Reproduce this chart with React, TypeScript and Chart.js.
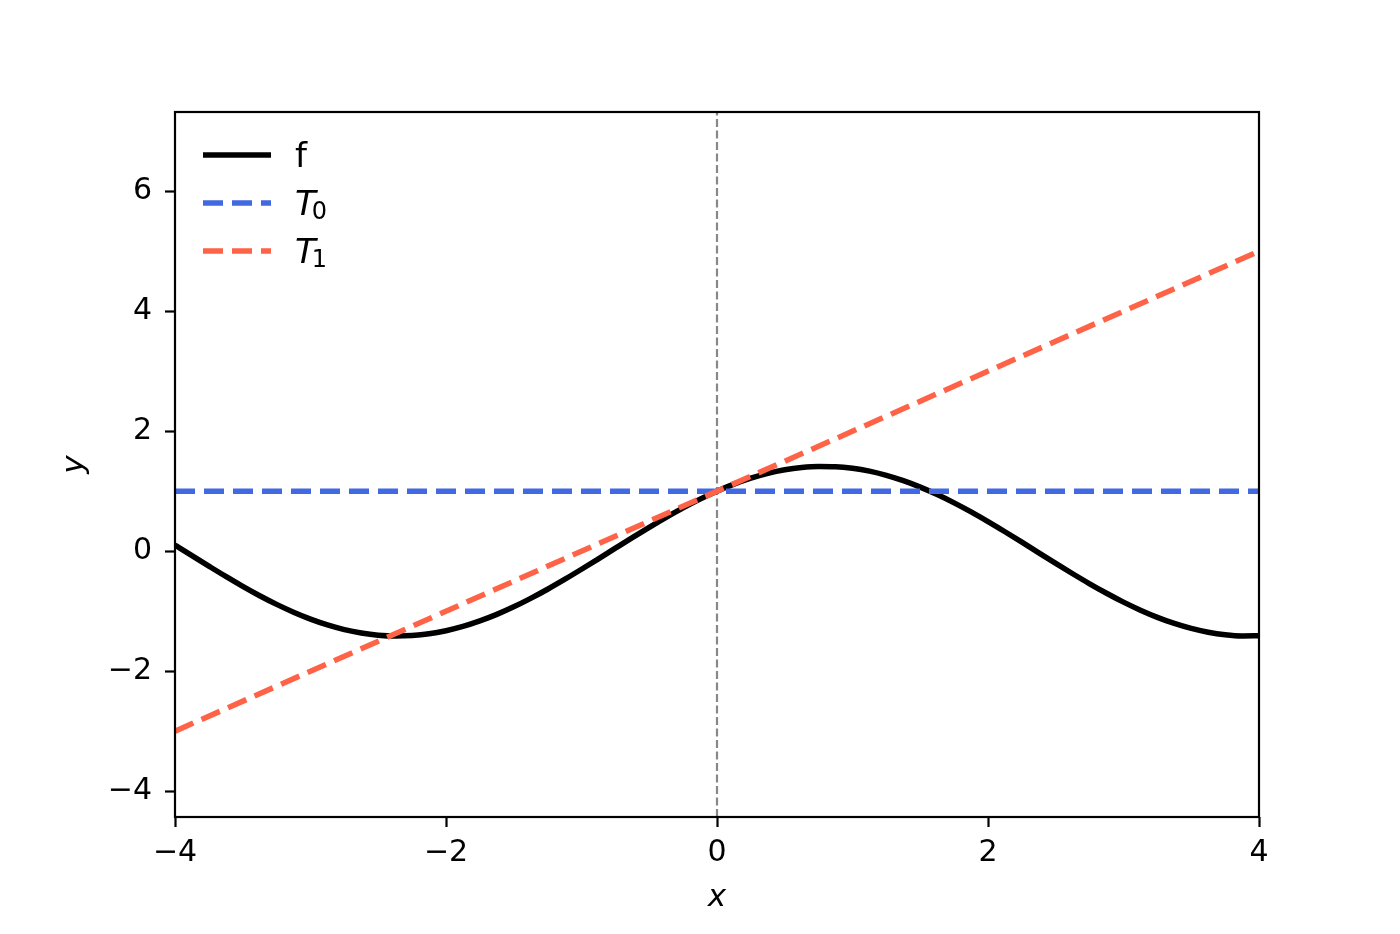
import { useEffect, useRef } from 'react';
import { Chart, registerables } from 'chart.js';

Chart.register(...registerables);

// ---- data ----
const xValues = [
  -4, -3.875, -3.75, -3.625, -3.5, -3.375, -3.25, -3.125, -3, -2.875, -2.75, -2.625, -2.5, -2.375, -2.25, -2.125,
  -2, -1.875, -1.75, -1.625, -1.5, -1.375, -1.25, -1.125, -1, -0.875, -0.75, -0.625, -0.5, -0.375, -0.25, -0.125,
  0, 0.125, 0.25, 0.375, 0.5, 0.625, 0.75, 0.875, 1, 1.125, 1.25, 1.375, 1.5, 1.625, 1.75, 1.875,
  2, 2.125, 2.25, 2.375, 2.5, 2.625, 2.75, 2.875, 3, 3.125, 3.25, 3.375, 3.5, 3.625, 3.75, 3.875, 4,
];
const fValues = [
  0.103, -0.074, -0.249, -0.421, -0.586, -0.742, -0.886, -1.016, -1.131, -1.228, -1.306, -1.363, -1.4, -1.414, -1.406, -1.377,
  -1.325, -1.254, -1.162, -1.053, -0.927, -0.786, -0.634, -0.471, -0.301, -0.127, 0.05, 0.226, 0.398, 0.564, 0.722, 0.868,
  1.0, 1.117, 1.216, 1.297, 1.357, 1.396, 1.413, 1.409, 1.382, 1.334, 1.264, 1.175, 1.068, 0.944, 0.806, 0.655,
  0.493, 0.324, 0.15, -0.027, -0.203, -0.376, -0.543, -0.701, -0.849, -0.983, -1.102, -1.204, -1.287, -1.35, -1.392, -1.412, -1.41,
];
const t0X = [-4, 4];
const t0Values = [1, 1];
const t1X = [-4, 4];
const t1Values = [-3, 5];
const vlineX = [0, 0];
const vlineY = [-4.43, 7.32];
const xTicks = [-4, -2, 0, 2, 4];
const yTicks = [-4, -2, 0, 2, 4, 6];
const xRange = [-4, 4];
const yRange = [-4.43, 7.32];
const seriesLabels = ['f', 'T_0', 'T_1'];
const seriesColors = ['#000000', '#4169e1', '#ff6347'];

const FONT = '"DejaVu Sans", sans-serif';
const fmt = (v: number) => (v < 0 ? '\u2212' + Math.abs(v) : String(v));

const framePlugin = {
  id: 'mplFrame',
  afterDatasetsDraw(chart: any) {
    const { ctx, chartArea: a } = chart;
    ctx.save();
    ctx.strokeStyle = '#000';
    ctx.lineWidth = 2.2;
    ctx.strokeRect(a.left, a.top, a.right - a.left, a.bottom - a.top);
    ctx.restore();
  },
};

const legendPlugin = {
  id: 'mplLegend',
  afterDraw(chart: any) {
    const { ctx, chartArea: a } = chart;
    const x0 = a.left + 28;
    const x1 = x0 + 68;
    const tx = x1 + 24;
    const datasets = chart.data.datasets.filter((d: any) => seriesLabels.includes(d.label));
    datasets.forEach((d: any, i: number) => {
      const ly = a.top + 43 + i * 48;
      ctx.save();
      ctx.strokeStyle = d.borderColor;
      ctx.lineWidth = 5.5;
      ctx.setLineDash(d.borderDash || []);
      ctx.beginPath();
      ctx.moveTo(x0, ly);
      ctx.lineTo(x1, ly);
      ctx.stroke();
      ctx.restore();

      ctx.save();
      ctx.fillStyle = '#000';
      ctx.textBaseline = 'alphabetic';
      ctx.textAlign = 'left';
      const base = ly + 12;
      const label: string = d.label;
      if (label.includes('_')) {
        const [main, sub] = label.split('_');
        ctx.font = `italic 34px ${FONT}`;
        ctx.fillText(main, tx, base);
        const w = ctx.measureText(main).width;
        ctx.font = `24px ${FONT}`;
        ctx.fillText(sub, tx + w - 4, base + 4);
      } else {
        ctx.font = `34px ${FONT}`;
        ctx.fillText(label, tx, base);
      }
      ctx.restore();
    });
  },
};

export default function App() {
  const canvasRef = useRef<HTMLCanvasElement | null>(null);

  useEffect(() => {
    const canvas = canvasRef.current;
    if (!canvas) return;
    const pts = (xs: number[], ys: number[]) => xs.map((x, i) => ({ x, y: ys[i] }));
    const tickFont = { family: FONT, size: 30 };
    const gridOpts = {
      display: true,
      drawOnChartArea: false,
      drawTicks: true,
      tickLength: 10,
      tickColor: '#000',
      tickWidth: 2.2,
      color: '#000',
    };
    const chart = new Chart(canvas, {
      type: 'line',
      data: {
        datasets: [
          {
            label: seriesLabels[0],
            data: pts(xValues, fValues),
            borderColor: seriesColors[0],
            borderWidth: 5.5,
            pointRadius: 0,
            cubicInterpolationMode: 'monotone',
            fill: false,
            order: 2,
            clip: 0,
          },
          {
            label: seriesLabels[1],
            data: pts(t0X, t0Values),
            borderColor: seriesColors[1],
            borderWidth: 5.5,
            borderDash: [20, 9],
            pointRadius: 0,
            fill: false,
            order: 1,
            clip: 0,
          },
          {
            label: seriesLabels[2],
            data: pts(t1X, t1Values),
            borderColor: seriesColors[2],
            borderWidth: 5.5,
            borderDash: [20, 9],
            pointRadius: 0,
            fill: false,
            order: 0,
            clip: 0,
          },
          {
            label: 'x0',
            data: pts(vlineX, vlineY),
            borderColor: '#888888',
            borderWidth: 2.2,
            borderDash: [8, 3.5],
            pointRadius: 0,
            fill: false,
            order: 3,
            clip: 0,
          },
        ],
      } as any,
      options: {
        animation: false,
        responsive: false,
        devicePixelRatio: 1,
        layout: { padding: { left: 0, top: 112, right: 141, bottom: 0 } },
        plugins: { legend: { display: false }, tooltip: { enabled: false } },
        scales: {
          x: {
            type: 'linear',
            min: xRange[0],
            max: xRange[1],
            afterBuildTicks: (s: any) => {
              s.ticks = xTicks.map((v) => ({ value: v }));
            },
            afterFit: (s: any) => {
              s.height = 117;
            },
            grid: gridOpts,
            border: { display: false },
            ticks: {
              font: tickFont,
              color: '#000',
              padding: 8,
              maxRotation: 0,
              autoSkip: false,
              callback: (v: any) => fmt(Number(v)),
            },
            title: {
              display: true,
              text: 'x',
              color: '#000',
              font: { family: FONT, size: 31, style: 'italic' },
              padding: { top: 0, bottom: 17 },
            },
          },
          y: {
            type: 'linear',
            min: yRange[0],
            max: yRange[1],
            afterBuildTicks: (s: any) => {
              s.ticks = yTicks.map((v) => ({ value: v }));
            },
            afterFit: (s: any) => {
              s.width = 175;
            },
            grid: gridOpts,
            border: { display: false },
            ticks: {
              font: tickFont,
              color: '#000',
              padding: 13,
              autoSkip: false,
              callback: (v: any) => fmt(Number(v)),
            },
            title: {
              display: true,
              text: 'y',
              color: '#000',
              font: { family: FONT, size: 31, style: 'italic' },
              padding: { top: 56, bottom: 0 },
            },
          },
        },
      } as any,
      plugins: [framePlugin, legendPlugin],
    });
    return () => chart.destroy();
  }, []);

  return (
    <div style={{ position: 'fixed', left: 0, top: 0, width: 1400, height: 934, background: '#fff' }}>
      <canvas ref={canvasRef} width={1400} height={934} style={{ display: 'block' }} />
    </div>
  );
}
